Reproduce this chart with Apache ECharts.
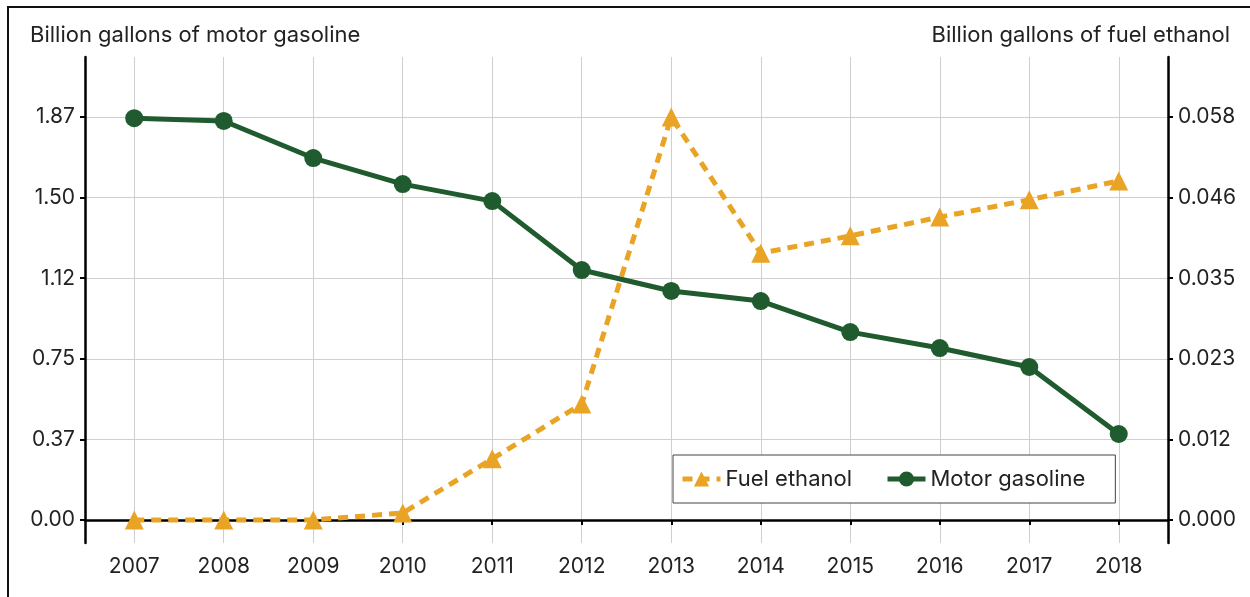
<!DOCTYPE html>
<html>
<head>
<meta charset="utf-8">
<script src="https://cdn.jsdelivr.net/npm/echarts@6/dist/echarts.min.js"></script>
<style>
  html, body { margin: 0; padding: 0; background: #fff; }
  #chart { width: 1250px; height: 597px; }
</style>
</head>
<body>
<div id="chart"></div>
<script>
// Years on the horizontal axis
const years = [2007, 2008, 2009, 2010, 2011, 2012, 2013, 2014, 2015, 2016, 2017, 2018];

// Motor gasoline, billion gallons (left axis)
const motorGasoline = [1.865, 1.852, 1.680, 1.559, 1.480, 1.160, 1.063, 1.016, 0.872, 0.798, 0.710, 0.399];

// Fuel ethanol, billion gallons (right axis)
const fuelEthanol = [0.0, 0.0, 0.0, 0.001, 0.0088, 0.0167, 0.058, 0.0384, 0.0409, 0.0436, 0.0461, 0.0488];

// Tick positions on each value axis
const leftTicks = [0, 0.374, 0.748, 1.122, 1.496, 1.87];
const rightTicks = [0, 0.0116, 0.0232, 0.0348, 0.0464, 0.058];

const FONT = 'Inter, Roboto, "Noto Sans", sans-serif';
const TEXT = '#222';
const GREEN = '#1f5b2e';
const ORANGE = '#e9a425';

const chart = echarts.init(document.getElementById('chart'), null, { renderer: 'canvas' });

const axisLineStyle = { show: true, lineStyle: { color: '#000', width: 2.5 } };
const tickStyle = { show: true, length: 5, lineStyle: { color: '#000', width: 2 } };
const gridLine = { show: true, lineStyle: { color: '#cfcfcf', width: 1 } };

chart.setOption({
  animation: false,
  backgroundColor: '#fff',
  grid: { left: 85, right: 82, top: 57, bottom: 54, containLabel: false },
  graphic: [
    { type: 'rect', shape: { x: 8, y: 7, width: 1260, height: 620 },
      style: { fill: 'none', stroke: '#111', lineWidth: 2 }, silent: true },
    { type: 'text', left: 30, top: 24,
      style: { text: 'Billion gallons of motor gasoline', font: '22px ' + FONT, fill: TEXT } },
    { type: 'text', right: 20, top: 24,
      style: { text: 'Billion gallons of fuel ethanol', font: '22px ' + FONT, fill: TEXT, align: 'right' } }
  ],
  legend: {
    left: 673, top: 455,
    padding: [13, 30, 13, 7],
    itemGap: 33,
    itemWidth: 38,
    itemHeight: 19,
    borderColor: '#444',
    borderWidth: 1,
    backgroundColor: '#fff',
    lineStyle: { width: 5 },
    textStyle: { fontFamily: FONT, fontSize: 22, color: TEXT },
    data: ['Fuel ethanol', 'Motor gasoline']
  },
  xAxis: {
    type: 'value',
    min: 2006.45,
    max: 2018.55,
    axisLine: axisLineStyle,
    axisTick: Object.assign({ customValues: years }, tickStyle),
    axisLabel: { customValues: years, fontFamily: FONT, fontSize: 21, color: TEXT, margin: 13,
      formatter: v => String(Math.round(v)) },
    splitLine: gridLine
  },
  yAxis: [
    {
      type: 'value',
      position: 'left',
      min: -0.107,
      max: 2.149,
      axisLine: axisLineStyle,
      axisTick: Object.assign({ customValues: leftTicks }, tickStyle),
      axisLabel: { customValues: leftTicks, fontFamily: FONT, fontSize: 21, color: TEXT, margin: 10,
        formatter: v => v.toFixed(2) },
      splitLine: gridLine
    },
    {
      type: 'value',
      position: 'right',
      min: -0.00332,
      max: 0.06665,
      axisLine: axisLineStyle,
      axisTick: Object.assign({ customValues: rightTicks }, tickStyle),
      axisLabel: { customValues: rightTicks, fontFamily: FONT, fontSize: 21, color: TEXT, margin: 10,
        formatter: v => v.toFixed(3) },
      splitLine: { show: false }
    }
  ],
  series: [
    {
      name: 'Fuel ethanol',
      type: 'line',
      yAxisIndex: 1,
      data: years.map((y, i) => [y, fuelEthanol[i]]),
      symbol: 'triangle',
      symbolSize: 19,
      itemStyle: { color: ORANGE },
      lineStyle: { color: ORANGE, width: 5, type: [10, 7] },
      z: 3
    },
    {
      name: 'Motor gasoline',
      type: 'line',
      yAxisIndex: 0,
      data: years.map((y, i) => [y, motorGasoline[i]]),
      symbol: 'circle',
      symbolSize: 18,
      itemStyle: { color: GREEN },
      lineStyle: { color: GREEN, width: 5 },
      z: 4
    }
  ]
});
</script>
</body>
</html>
